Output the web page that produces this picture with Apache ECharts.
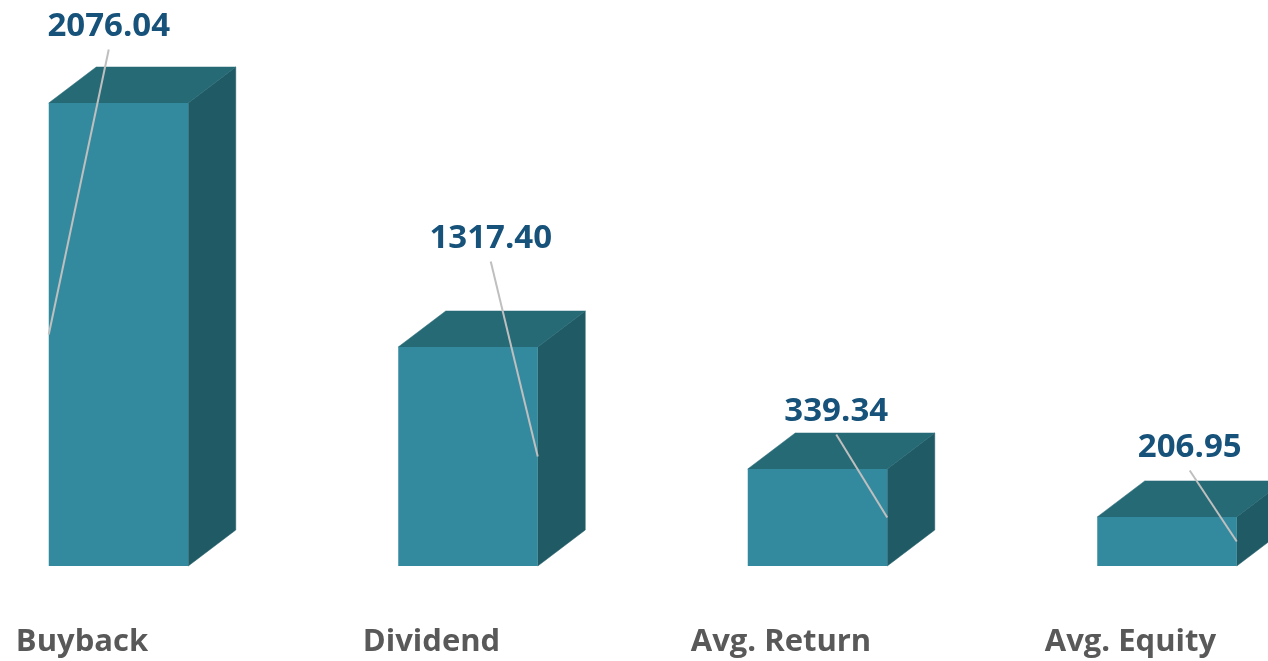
<!DOCTYPE html>
<html>
<head>
<meta charset="utf-8">
<title>Buyback chart</title>
<style>
  html, body { margin: 0; padding: 0; background: #fff; }
  #chart { width: 1268px; height: 661px; }
</style>
<script src="https://cdn.jsdelivr.net/npm/echarts@6/dist/echarts.min.js"></script>
</head>
<body>
<div id="chart"></div>
<script>
// 数据
var categories = ['Buyback', 'Dividend', 'Avg. Return', 'Avg. Equity'];
var valueLabels = ['2076.04', '1317.40', '339.34', '206.95'];
// the drawn bars are not in proportion to their labels, so heights are read off the picture
var barHeights = [2076, 982, 435, 220];

// 样式
var frontColor = '#338A9E';
var topColor = '#266A76';
var sideColor = '#205A65';
var leaderColor = '#BFBFBF';
var labelColor = '#17527A';
var categoryColor = '#595959';
var fontName = '"Open Sans", sans-serif';
var barWidth = 139.5;
var depthX = 47.5;
var depthY = 36;
// leader line: which side of the bar it lands on, and how far its free end sits from there
var leaderSide = [-1, 1, 1, 1];
var leaderOffset = [[60, -285], [-47, -195], [-51, -83], [-47, -71]];

function renderBox(params, api) {
    var i = api.value(0);
    var top = api.coord([i, api.value(1)]);
    var base = api.coord([i, 0]);
    var l = top[0] - barWidth / 2, r = top[0] + barWidth / 2;
    var t = top[1], b = base[1];

    var endX = leaderSide[i] < 0 ? l : r;
    var endY = (t + b) / 2;
    var startX = endX + leaderOffset[i][0];
    var startY = endY + leaderOffset[i][1];

    return {
        type: 'group',
        children: [
            {
                type: 'polygon',
                shape: { points: [[r, t], [r + depthX, t - depthY], [r + depthX, b - depthY], [r, b]] },
                style: { fill: sideColor, stroke: sideColor, lineWidth: 0.5 }
            },
            {
                type: 'polygon',
                shape: { points: [[l, t], [l + depthX, t - depthY], [r + depthX, t - depthY], [r, t]] },
                style: { fill: topColor, stroke: topColor, lineWidth: 0.5 }
            },
            {
                type: 'rect',
                shape: { x: l, y: t, width: barWidth, height: b - t },
                style: { fill: frontColor }
            },
            {
                type: 'line',
                shape: { x1: startX, y1: startY, x2: endX, y2: endY },
                style: { stroke: leaderColor, lineWidth: 2 }
            },
            {
                type: 'text',
                x: startX,
                y: startY - 23,
                style: {
                    text: valueLabels[i],
                    fill: labelColor,
                    font: 'bold 33px ' + fontName,
                    align: 'center',
                    verticalAlign: 'middle'
                }
            }
        ]
    };
}

var myChart = echarts.init(document.getElementById('chart'));
myChart.setOption({
    animation: false,
    backgroundColor: '#fff',
    grid: { left: -56.25, right: -73.75, top: 103, bottom: 95, outerBoundsMode: 'none' },
    xAxis: {
        type: 'category',
        data: categories,
        axisLine: { show: false },
        axisTick: { show: false },
        axisLabel: {
            interval: 0,
            margin: 61,
            padding: [0, 73, 0, 0],
            color: categoryColor,
            fontFamily: fontName,
            fontWeight: 'bold',
            fontSize: 31
        }
    },
    yAxis: { type: 'value', min: 0, max: 2076, show: false },
    series: [
        {
            type: 'custom',
            renderItem: renderBox,
            clip: false,
            encode: { x: 0, y: 1 },
            data: barHeights.map(function (h, i) { return [i, h]; })
        }
    ]
});
</script>
</body>
</html>
